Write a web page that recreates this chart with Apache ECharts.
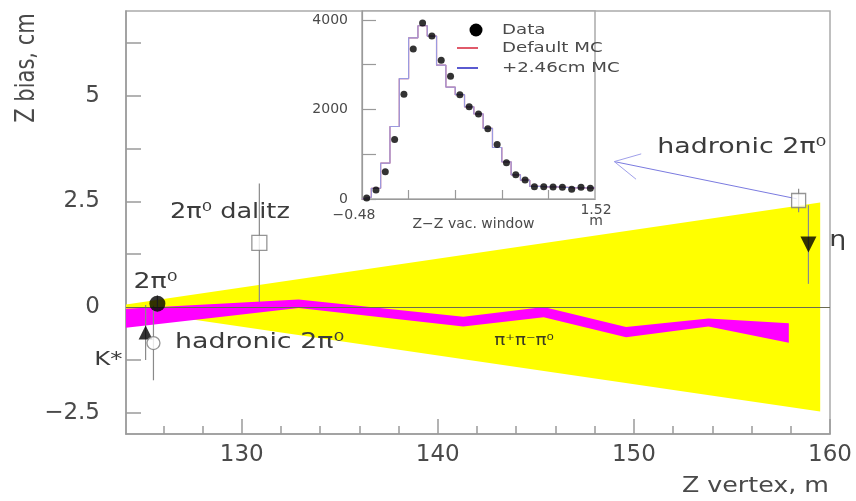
<!DOCTYPE html>
<html><head><meta charset="utf-8">
<script src="https://cdn.jsdelivr.net/npm/echarts@6/dist/echarts.min.js"></script>
<style>html,body{margin:0;padding:0;background:#fff}#c{width:856px;height:501px}</style>
</head><body><div id="c"></div>
<script>
const FONT = 'DejaVu Sans';

// ---------- main plot: axes ----------
const xTickValues = [130, 140, 150, 160];
const xMinorTickValues = [126, 128, 132, 134, 136, 138, 142, 144, 146, 148, 152, 154, 156, 158];
const yTickValues = [-2.5, -1.25, 0, 1.25, 2.5, 3.75, 5, 6.25];
const yLabelValues = [-2.5, 0, 2.5, 5];

// ---------- yellow systematic wedge ----------
const wedgeX = [124.1, 159.5];
const wedgeLo = [-0.06, -2.47];
const wedgeHi = [0.06, 2.47];

// ---------- magenta pi+pi-pi0 band ----------
const bandX = [124.1, 132.9, 141.3, 145.4, 149.6, 153.8, 157.9];
const bandHi = [-0.04, 0.18, -0.23, 0.00, -0.47, -0.27, -0.38];
const bandLo = [-0.49, -0.02, -0.46, -0.24, -0.71, -0.46, -0.84];

// ---------- measured points ----------
const ptNames = ['2π⁰', 'K*', 'hadronic 2π⁰ (low)', '2π⁰ dalitz', 'hadronic 2π⁰ (high)', 'η'];
const ptX = [125.7, 125.1, 125.5, 130.9, 158.4, 158.9];
const ptY = [0.08, -0.60, -0.85, 1.52, 2.52, 1.48];
const ptErr = [0.20, 0.65, 0.88, 1.40, 0.28, 0.93];

// ---------- text annotations (data coordinates) ----------
const annText = ['2π⁰', 'K*', 'hadronic 2π⁰', '2π⁰ dalitz', 'hadronic 2π⁰', 'η', 'π⁺π⁻π⁰'];
const annX = [125.6, 123.2, 126.6, 129.4, 155.5, 160.4, 144.4];
const annY = [0.58, -1.25, -0.84, 2.23, 3.78, 1.58, -0.80];

// ---------- arrow (from right hadronic point to inset) ----------
const arrowFrom = [158.3, 2.56];
const arrowTo = [149.0, 3.44];

// ---------- inset histogram ----------
const insetXTicks = [-0.08, 0.32, 0.72, 1.12];
const insetXLabels = [-0.48, 1.52];
const insetYTicks = [0, 1000, 2000, 3000, 4000];
const insetYLabels = [0, 2000, 4000];
const binCenters = [-0.44, -0.36, -0.28, -0.20, -0.12, -0.04, 0.04, 0.12, 0.20, 0.28, 0.36, 0.44, 0.52,
                    0.60, 0.68, 0.76, 0.84, 0.92, 1.00, 1.08, 1.16, 1.24, 1.32, 1.40, 1.48];
const dataCounts = [20, 200, 610, 1330, 2340, 3350, 3930, 3640, 3100, 2740, 2330, 2060, 1900,
                    1570, 1215, 810, 540, 425, 275, 275, 270, 260, 220, 260, 240];
const mcDefault = [40, 240, 800, 1620, 2690, 3600, 3870, 3640, 2990, 2500, 2330, 2060, 1900,
                   1580, 1150, 830, 540, 420, 280, 270, 270, 260, 250, 250, 250];
const mcShifted = [40, 240, 800, 1620, 2690, 3600, 3870, 3640, 2990, 2500, 2330, 2060, 1900,
                   1580, 1150, 830, 540, 420, 280, 270, 270, 260, 250, 250, 250];

// ---------- styles ----------
const axisGrey = '#9a9a9a';
const textGrey = '#4a4a4a';
const markerStyle = [
  {symbol: 'circle', size: 16, filled: true, rotate: 0},
  {symbol: 'triangle', size: 14, filled: true, rotate: 0},
  {symbol: 'circle', size: 13, filled: false, rotate: 0},
  {symbol: 'rect', size: 15, filled: false, rotate: 0},
  {symbol: 'rect', size: 14, filled: false, rotate: 0},
  {symbol: 'triangle', size: 16, filled: true, rotate: 180}
];
const annStyle = [
  {size: 22, align: 'center'}, {size: 20, align: 'center'}, {size: 22, align: 'left'},
  {size: 21, align: 'center'}, {size: 22, align: 'center'}, {size: 22, align: 'center'},
  {size: 15, align: 'center'}
];
const binHalf = 0.04;

function minusFmt(v) { return v < 0 ? '−' + Math.abs(v) : String(v); }
function stepData(vals) {
  const pts = [[binCenters[0] - binHalf, 0]];
  vals.forEach((v, i) => { pts.push([binCenters[i] - binHalf, v]); pts.push([binCenters[i] + binHalf, v]); });
  return pts;
}

const chart = echarts.init(document.getElementById('c'));
const option = {
  animation: false,
  backgroundColor: '#fff',
  textStyle: {fontFamily: FONT},
  grid: [
    {left: 126, right: 26, top: 11, bottom: 67, show: true, borderColor: '#aaa', borderWidth: 1.5, backgroundColor: 'transparent'},
    {left: 362, width: 233, top: 11, height: 188, show: true, borderColor: '#aaa', borderWidth: 1.5, backgroundColor: '#fff'}
  ],
  xAxis: [
    {gridIndex: 0, type: 'value', min: 124.1, max: 160, position: 'bottom',
     axisLine: {show: true, onZero: false, lineStyle: {color: axisGrey, width: 1.5}},
     axisTick: {show: true, inside: true, length: 15, customValues: xTickValues, lineStyle: {color: axisGrey, width: 1.5}},
     axisLabel: {customValues: xTickValues, fontSize: 23, color: textGrey, margin: 10, fontFamily: FONT},
     splitLine: {show: false}},
    {gridIndex: 0, type: 'value', min: 124.1, max: 160, position: 'bottom',
     axisLine: {show: false, onZero: false},
     axisTick: {show: true, inside: true, length: 8, customValues: xMinorTickValues, lineStyle: {color: axisGrey, width: 1.5}},
     axisLabel: {show: false}, splitLine: {show: false}},
    {gridIndex: 1, type: 'value', min: -0.48, max: 1.52, position: 'bottom',
     axisLine: {show: true, onZero: false, lineStyle: {color: axisGrey, width: 1.2}},
     axisTick: {show: true, inside: true, length: 9, customValues: insetXTicks, lineStyle: {color: axisGrey, width: 1.2}},
     axisLabel: {customValues: insetXLabels, fontSize: 14, color: textGrey, margin: 6, fontFamily: FONT,
       formatter: v => v < 0 ? '{l|' + minusFmt(v) + '}' : '{r|' + v.toFixed(2) + '}\n{r|m}',
       rich: {l: {fontSize: 14, color: textGrey, padding: [3, 16, 0, 0]}, r: {fontSize: 14, color: textGrey, lineHeight: 11, padding: [0, 0, 0, 2]}}},
     name: 'Z−Z vac. window', nameLocation: 'middle', nameGap: 18, nameMoveOverlap: false,
     nameTextStyle: {fontSize: 14, color: textGrey, fontFamily: FONT, padding: [0, 10, 0, 0]},
     splitLine: {show: false}}
  ],
  yAxis: [
    {gridIndex: 0, type: 'value', min: -3, max: 7,
     axisLine: {show: true, onZero: false, lineStyle: {color: axisGrey, width: 1.5}},
     axisTick: {show: true, inside: true, length: 15, customValues: yTickValues, lineStyle: {color: axisGrey, width: 1.5}},
     axisLabel: {customValues: yLabelValues, formatter: minusFmt, fontSize: 23, color: textGrey, margin: 26, fontFamily: FONT},
     splitLine: {show: false}},
    {gridIndex: 1, type: 'value', min: 0, max: 4200,
     axisLine: {show: true, onZero: false, lineStyle: {color: axisGrey, width: 1.2}},
     axisTick: {show: true, inside: true, length: 14, customValues: insetYTicks, lineStyle: {color: axisGrey, width: 1.2}},
     axisLabel: {customValues: insetYLabels, formatter: v => String(v), fontSize: 14, color: textGrey, margin: 14, fontFamily: FONT},
     splitLine: {show: false}}
  ],
  series: [
    { // yellow wedge
      type: 'custom', xAxisIndex: 0, yAxisIndex: 0, z: 1, silent: true,
      data: wedgeX.map((x, i) => [x, wedgeLo[i], wedgeHi[i]]),
      encode: {x: 0, y: [1, 2]},
      renderItem: (params, api) => {
        if (params.dataIndex !== 0) return null;
        const top = wedgeX.map((x, i) => api.coord([x, wedgeHi[i]]));
        const bot = wedgeX.map((x, i) => api.coord([x, wedgeLo[i]])).reverse();
        return {type: 'polygon', shape: {points: top.concat(bot)}, style: {fill: '#ffff00'}};
      }
    },
    { // magenta band
      type: 'custom', xAxisIndex: 0, yAxisIndex: 0, z: 3, silent: true,
      data: bandX.map((x, i) => [x, bandLo[i], bandHi[i]]),
      encode: {x: 0, y: [1, 2]},
      renderItem: (params, api) => {
        if (params.dataIndex !== 0) return null;
        const top = bandX.map((x, i) => api.coord([x, bandHi[i]]));
        const bot = bandX.map((x, i) => api.coord([x, bandLo[i]])).reverse();
        return {type: 'polygon', shape: {points: top.concat(bot)}, style: {fill: '#ff00ff'}};
      }
    },
    { // error bars
      type: 'custom', xAxisIndex: 0, yAxisIndex: 0, z: 4, silent: true,
      data: ptX.map((x, i) => [x, ptY[i] - ptErr[i], ptY[i] + ptErr[i]]),
      encode: {x: 0, y: [1, 2]},
      renderItem: (params, api) => {
        const a = api.coord([api.value(0), api.value(1)]);
        const b = api.coord([api.value(0), api.value(2)]);
        return {type: 'line', shape: {x1: a[0], y1: a[1], x2: b[0], y2: b[1]}, style: {stroke: '#8a8a8a', lineWidth: 1.2}};
      }
    },
    { // points
      type: 'scatter', name: 'points', xAxisIndex: 0, yAxisIndex: 0, z: 5, silent: true,
      data: ptX.map((x, i) => ({
        name: ptNames[i], value: [x, ptY[i]],
        symbol: markerStyle[i].symbol, symbolSize: markerStyle[i].size, symbolRotate: markerStyle[i].rotate,
        itemStyle: markerStyle[i].filled ? {color: '#000'} : {color: '#fff', borderColor: '#7a7a7a', borderWidth: 1.3}
      })),
      markLine: {silent: true, symbol: 'none', label: {show: false},
        lineStyle: {color: '#6b6b50', width: 1, type: 'solid'}, data: [{yAxis: 0}]}
    },
    { // arrow
      type: 'custom', xAxisIndex: 0, yAxisIndex: 0, z: 4, silent: true,
      data: [[arrowFrom[0], arrowFrom[1], arrowTo[0], arrowTo[1]]],
      encode: {x: [0, 2], y: [1, 3]},
      renderItem: (params, api) => {
        const p0 = api.coord([api.value(0), api.value(1)]);
        const p1 = api.coord([api.value(2), api.value(3)]);
        const ang = Math.atan2(p0[1] - p1[1], p0[0] - p1[0]);
        const L = 28, da = 0.48;
        const a1 = [p1[0] + L * Math.cos(ang - da), p1[1] + L * Math.sin(ang - da)];
        const a2 = [p1[0] + L * Math.cos(ang + da), p1[1] + L * Math.sin(ang + da)];
        return {type: 'group', children: [
          {type: 'line', shape: {x1: p0[0], y1: p0[1], x2: p1[0], y2: p1[1]}, style: {stroke: '#7b7be0', lineWidth: 1}},
          {type: 'polyline', shape: {points: [a1, p1, a2]}, style: {stroke: '#a0a0ea', lineWidth: 1, fill: null}}
        ]};
      }
    },
    { // annotations
      type: 'custom', xAxisIndex: 0, yAxisIndex: 0, z: 6, silent: true, clip: false,
      data: annX.map((x, i) => [x, annY[i]]),
      encode: {x: 0, y: 1},
      renderItem: (params, api) => {
        const i = params.dataIndex;
        const p = api.coord([api.value(0), api.value(1)]);
        return {type: 'text', x: p[0], y: p[1], scaleX: 1.22,
          style: {text: annText[i], fontSize: annStyle[i].size, fontFamily: FONT, fill: i === 6 ? '#3a3a20' : '#3c3c3c',
                  align: annStyle[i].align, verticalAlign: 'middle'}};
      }
    },
    // ---------- inset ----------
    {type: 'line', name: 'Default MC', xAxisIndex: 2, yAxisIndex: 1, z: 3, silent: true,
     data: stepData(mcDefault), showSymbol: false, lineStyle: {color: '#e05a6a', width: 1.2}},
    {type: 'line', name: '+2.46cm MC', xAxisIndex: 2, yAxisIndex: 1, z: 4, silent: true,
     data: stepData(mcShifted), showSymbol: false, lineStyle: {color: '#9a9ae0', width: 1.2}},
    {type: 'scatter', name: 'Data', xAxisIndex: 2, yAxisIndex: 1, z: 5, silent: true,
     data: binCenters.map((x, i) => [x, dataCounts[i]]), symbolSize: 7, itemStyle: {color: '#000'}}
  ],
  graphic: [
    {type: 'text', x: 27, y: 68, rotation: Math.PI / 2, scaleY: 1.25,
     style: {text: 'Z bias, cm', fontSize: 21, fontFamily: FONT, fill: textGrey, align: 'center', verticalAlign: 'middle'}},
    {type: 'text', x: 829, y: 486, scaleX: 1.15,
     style: {text: 'Z vertex, m', fontSize: 22, fontFamily: FONT, fill: textGrey, align: 'right', verticalAlign: 'middle'}},
    // inset legend
    {type: 'circle', shape: {cx: 476, cy: 30, r: 6.5}, style: {fill: '#000'}, z: 10},
    {type: 'line', shape: {x1: 457, y1: 48, x2: 478, y2: 48}, style: {stroke: '#e05a6a', lineWidth: 2}, z: 10},
    {type: 'line', shape: {x1: 457, y1: 68, x2: 478, y2: 68}, style: {stroke: '#5a5ad0', lineWidth: 2}, z: 10},
    {type: 'text', x: 502, y: 30, scaleX: 1.3, z: 10,
     style: {text: 'Data', fontSize: 14, fontFamily: FONT, fill: textGrey, align: 'left', verticalAlign: 'middle'}},
    {type: 'text', x: 502, y: 48, scaleX: 1.3, z: 10,
     style: {text: 'Default MC', fontSize: 14, fontFamily: FONT, fill: textGrey, align: 'left', verticalAlign: 'middle'}},
    {type: 'text', x: 502, y: 68, scaleX: 1.3, z: 10,
     style: {text: '+2.46cm MC', fontSize: 14, fontFamily: FONT, fill: textGrey, align: 'left', verticalAlign: 'middle'}}
  ]
};
chart.setOption(option);
</script>
</body></html>
